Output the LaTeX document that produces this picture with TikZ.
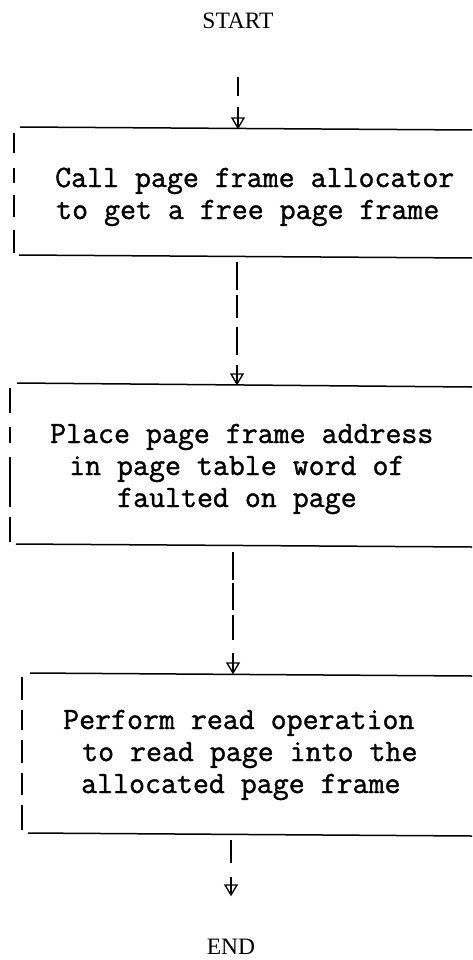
\documentclass[tikz,border=0pt]{standalone}
\usepackage{fontspec}
\newfontfamily\twfont{Latin Modern Mono}[FakeBold=1.2]
\newfontfamily\termfont{Liberation Serif}
\begin{document}
\begin{tikzpicture}[x=1pt,y=-1pt,
  rule/.style={line width=1.5pt, line cap=butt},
  boxtext/.style={font=\fontsize{31}{32}\selectfont\twfont, anchor=base west, inner sep=0pt},
  term/.style={font=\fontsize{23.5}{25}\selectfont\termfont, inner sep=0pt},
  headtip/.pic={\draw[line width=1.3pt, line join=miter] (-6,-10) -- (6,-10) -- (0,0) -- cycle;}]
\useasboundingbox (0,0) rectangle (472,960);

% terminals
\node[term] (start) at (238,20.5) {START};
\node[term] (end) at (231,946.5) {END};

% box 1
\coordinate (b1tl) at (20,127);  \coordinate (b1tr) at (472,130);
\coordinate (b1bl) at (19,255);  \coordinate (b1br) at (472,258);
\coordinate (b1lt) at (14,133);  \coordinate (b1lb) at (14,253);
\draw[rule] (b1tl) -- (b1tr);
\draw[rule] (b1bl) -- (b1br);
\draw[rule, dash pattern=on 20pt off 15pt on 15pt off 12pt on 22pt off 13pt on 30pt] (b1lt) -- (b1lb);
\node[boxtext] (t11) at (55,187) {Call page frame allocator};
\node[boxtext] (t12) at (56,219) {to get a free page frame};

% box 2
\coordinate (b2tl) at (17,383);  \coordinate (b2tr) at (472,387);
\coordinate (b2bl) at (16,544);  \coordinate (b2br) at (472,547);
\coordinate (b2lt) at (10,388);  \coordinate (b2lb) at (10,542);
\draw[rule] (b2tl) -- (b2tr);
\draw[rule] (b2bl) -- (b2br);
\draw[rule, dash pattern=on 25pt off 14pt on 16pt off 14pt on 50pt off 10pt on 30pt] (b2lt) -- (b2lb);
\node[boxtext] (t21) at (50,443) {Place page frame address};
\node[boxtext] (t22) at (69,475) {in page table word of};
\node[boxtext] (t23) at (117,507) {faulted on page};

% box 3
\coordinate (b3tl) at (30,673);  \coordinate (b3tr) at (472,676);
\coordinate (b3bl) at (28,833);  \coordinate (b3br) at (472,836);
\coordinate (b3lt) at (22,677);  \coordinate (b3lb) at (22,830);
\draw[rule] (b3tl) -- (b3tr);
\draw[rule] (b3bl) -- (b3br);
\draw[rule, dash pattern=on 23pt off 10pt on 20pt off 10pt on 23pt off 10pt on 22pt off 10pt on 30pt] (b3lt) -- (b3lb);
\node[boxtext] (t31) at (63,729) {Perform read operation};
\node[boxtext] (t32) at (82,761) {to read page into the};
\node[boxtext] (t33) at (81,793) {allocated page frame};

% connectors
\coordinate (a1s) at (238,77);  \coordinate (a1e) at (238,128);
\draw[rule, dash pattern=on 19pt off 11pt on 40pt] (a1s) -- (a1e);
\pic at (a1e) {headtip};

\coordinate (a2s) at (237,262); \coordinate (a2e) at (237,384);
\draw[rule, dash pattern=on 28pt off 5pt on 23pt off 9pt on 28pt off 10pt on 40pt] (a2s) -- (a2e);
\pic at (a2e) {headtip};

\coordinate (a3s) at (233,552); \coordinate (a3e) at (233,673);
\draw[rule, dash pattern=on 28pt off 3pt on 27pt off 5pt on 25pt off 13pt on 40pt] (a3s) -- (a3e);
\pic at (a3e) {headtip};

\coordinate (a4s) at (231,840); \coordinate (a4e) at (231,895);
\draw[rule, dash pattern=on 23pt off 14pt on 40pt] (a4s) -- (a4e);
\pic at (a4e) {headtip};
\end{tikzpicture}
\end{document}
